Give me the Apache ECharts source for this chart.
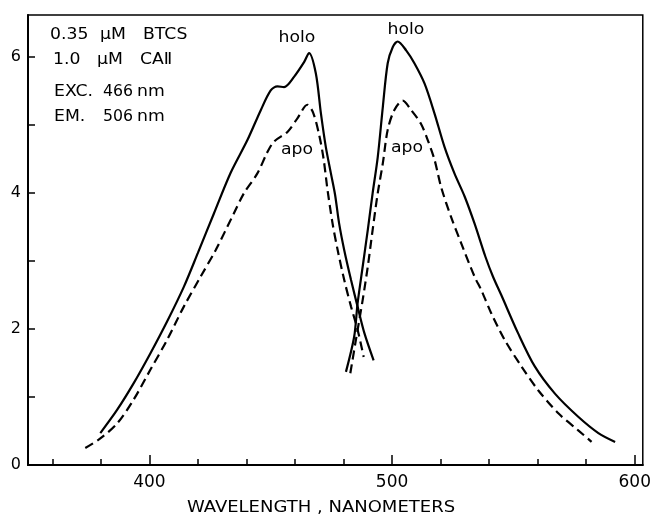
<!DOCTYPE html>
<html>
<head>
<meta charset="utf-8">
<script src="https://cdn.jsdelivr.net/npm/echarts@6/dist/echarts.min.js"></script>
<style>
  html, body { margin: 0; padding: 0; background: #fff; }
  #chart { width: 654px; height: 516px; }
</style>
</head>
<body>
<div id="chart"></div>
<script>
// Excitation spectra (left pair) and emission spectra (right pair)
const holoExWl  = [379.8,386.7,393.5,400.4,407.3,414.2,420.0,426.6,433.5,440.4,445.9,450.0,452.8,455.5,459.6,463.8,465.8,468.6,470.7,472.7,474.8,476.5,478.2,480.3,483.1,485.8,488.6,492.4];
const holoExVal = [0.47,0.81,1.20,1.64,2.11,2.62,3.12,3.70,4.30,4.78,5.22,5.51,5.57,5.56,5.71,5.93,6.06,5.76,5.17,4.68,4.29,3.98,3.55,3.16,2.72,2.33,1.94,1.54];

const apoExWl  = [373.6,379.8,386.7,393.5,400.4,407.3,414.2,421.1,427.3,434.8,439.0,444.5,448.6,451.4,456.9,461.0,465.1,467.5,470.0,471.8,473.4,475.5,477.6,480.3,483.1,485.8,488.3];
const apoExVal = [0.25,0.39,0.61,0.96,1.40,1.84,2.33,2.77,3.16,3.70,4.00,4.29,4.60,4.76,4.90,5.10,5.30,5.18,4.85,4.50,4.05,3.55,3.16,2.72,2.33,1.99,1.59];

const holoEmWl  = [481.0,484.4,485.8,487.9,490.0,492.0,494.1,496.2,498.2,500.3,502.3,505.8,509.2,513.4,517.5,521.6,525.7,529.9,534.0,538.5,541.6,545.0,551.9,558.8,567.1,576.7,585.0,591.9];
const holoEmVal = [1.37,1.89,2.38,2.92,3.46,4.00,4.53,5.27,5.91,6.15,6.23,6.10,5.91,5.61,5.17,4.68,4.29,3.95,3.55,3.06,2.77,2.50,1.94,1.45,1.05,0.71,0.47,0.34];

const apoEmWl  = [482.8,485.1,487.9,490.0,492.0,494.1,496.2,498.2,500.9,504.4,507.9,511.9,514.7,517.5,520.2,524.3,528.5,534.0,536.8,540.9,546.4,553.3,560.2,568.5,576.7,582.2];
const apoEmVal = [1.35,1.84,2.43,2.92,3.46,4.00,4.44,4.93,5.22,5.36,5.22,5.02,4.78,4.49,4.09,3.65,3.26,2.77,2.57,2.23,1.84,1.45,1.10,0.76,0.51,0.34];

// Axis ticks and labels
const xMinorTicks = [360,380,400,420,440,460,480,500,520,540,560,580,600];
const xMajorTicks = [400,500,600];
const yTicks      = [0,1,2,3,4,5,6];
const yLabels     = [0,2,4,6];

const FONT = '"DejaVu Sans", sans-serif';
const pairs = (xs, ys) => xs.map((x, i) => [x, ys[i]]);

const solid  = { color: '#000', width: 2.2, type: 'solid' };
const dashed = { color: '#000', width: 2.2, type: [9, 5] };

function curve(name, xs, ys, style) {
  return {
    name, type: 'line', xAxisIndex: 0, yAxisIndex: 0,
    data: pairs(xs, ys), showSymbol: false, smooth: 0.3,
    lineStyle: style, silent: true, z: 3
  };
}

// Widened text, matching the extended lettering of the annotations
function word(text, x, y, align, sx) {
  return {
    type: 'text', x, y, scaleX: sx || 1.15, silent: true,
    style: { text, font: '15px ' + FONT, fill: '#000', align: align || 'left', verticalAlign: 'middle' }
  };
}

const chart = echarts.init(document.getElementById('chart'), null, { renderer: 'canvas' });

const xBase = { type: 'value', min: 350, max: 603.3, splitLine: { show: false } };

chart.setOption({
  backgroundColor: '#fff',
  animation: false,
  grid: {
    left: 28, right: 11, top: 15, bottom: 51,
    show: true, borderColor: '#000', borderWidth: 1.5, backgroundColor: 'transparent'
  },
  xAxis: [
    Object.assign({}, xBase, {
      position: 'bottom',
      axisLine: { show: true, lineStyle: { color: '#000', width: 2 } },
      axisTick: { show: true, inside: true, length: 6, customValues: xMinorTicks, lineStyle: { color: '#000', width: 1.5 } },
      axisLabel: { customValues: xMajorTicks, margin: 9, color: '#000', fontSize: 17, fontFamily: FONT }
    }),
    Object.assign({}, xBase, {
      position: 'bottom',
      axisLine: { show: false },
      axisTick: { show: true, inside: true, length: 10, customValues: xMajorTicks, lineStyle: { color: '#000', width: 1.5 } },
      axisLabel: { show: false }
    })
  ],
  yAxis: {
    type: 'value', min: 0, max: 6.62,
    splitLine: { show: false },
    axisLine: { show: true, lineStyle: { color: '#000', width: 2 } },
    axisTick: { show: true, inside: true, length: 7, customValues: yTicks, lineStyle: { color: '#000', width: 1.5 } },
    axisLabel: { customValues: yLabels, margin: 7, color: '#000', fontSize: 16, fontFamily: FONT }
  },
  series: [
    curve('holo excitation', holoExWl, holoExVal, solid),
    curve('apo excitation', apoExWl, apoExVal, dashed),
    curve('holo emission', holoEmWl, holoEmVal, solid),
    curve('apo emission', apoEmWl, apoEmVal, dashed)
  ],
  graphic: [
    word('0.35', 50, 35), word('μM', 100, 35), word('BTCS', 143, 35),
    word('1.0', 53, 60), word('μM', 97, 60), word('CAⅡ', 140, 60),
    word('EXC.', 54, 92), word('466', 103, 92, 'left', 1.05), word('nm', 137, 92),
    word('EM.', 54, 117), word('506', 103, 117, 'left', 1.05), word('nm', 137, 117),
    word('holo', 297, 38, 'center'),
    word('holo', 406, 30, 'center'),
    word('apo', 297, 150, 'center'),
    word('apo', 407, 148, 'center'),
    {
      type: 'text', x: 321, y: 508, scaleX: 1.2, silent: true,
      style: { text: 'WAVELENGTH , NANOMETERS', font: '15px ' + FONT, fill: '#000', align: 'center', verticalAlign: 'middle' }
    }
  ]
});
</script>
</body>
</html>
